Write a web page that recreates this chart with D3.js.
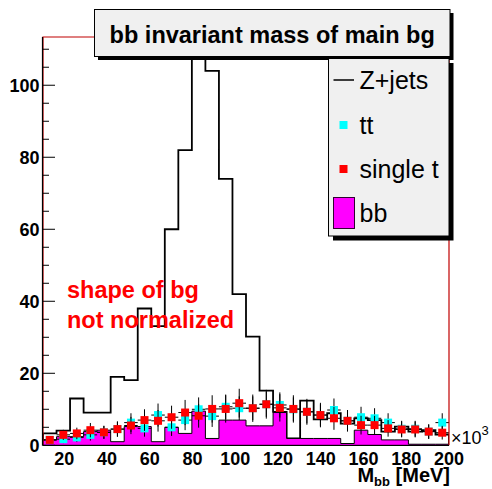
<!DOCTYPE html>
<html><head><meta charset="utf-8">
<script src="https://cdn.jsdelivr.net/npm/d3@7"></script>
<style>body{margin:0;background:#fff}svg{display:block}text{font-family:"Liberation Sans",Arial,Helvetica,sans-serif}</style>
</head><body><svg id="c" width="492" height="489"></svg>
<script>
// ---- data ----
const xDomain = [10, 200];          // x axis, units of 10^3 MeV
const nBins = 30;
const yDomain = [0, 113.4];
const zjets = [3.3, 4.1, 13.0, 9.1, 9.1, 19.0, 18.1, 38.0, 33.1, 60.0, 82.0, 125, 104, 74, 42, 30.2, 15.2, 9.3, 1.9, 12.4, 7.2, 8.9, 6.0, 7.5, 7.0, 3.8, 5.2, 3.8, 4.2, 3.0];
const ttVals = [1.5, 1.7, 2.2, 2.9, 3.6, 4.5, 6.3, 4.7, 8.4, 5.0, 7.0, 10.0, 8.1, 10.7, 10.3, 10.3, 11.4, 11.2, 10.0, 9.3, 8.4, 9.8, 6.8, 7.8, 7.5, 6.3, 4.6, 4.6, 3.8, 6.3];
const ttErr  = [0.9, 1.1, 1.3, 1.6, 1.8, 2.1, 2.6, 2.3, 3.2, 2.4, 2.8, 3.3, 3.0, 3.4, 3.3, 3.3, 3.5, 3.5, 3.3, 3.2, 3.0, 3.2, 2.7, 2.9, 2.8, 2.6, 2.2, 2.2, 2.0, 2.6];
const stVals = [1.5, 2.9, 3.3, 4.2, 3.6, 4.5, 5.5, 7.0, 6.8, 7.8, 9.1, 8.2, 10.1, 10.1, 11.7, 10.3, 11.4, 10.4, 10.1, 9.3, 8.4, 7.5, 6.8, 5.6, 5.6, 4.7, 4.4, 4.4, 3.8, 3.5];
const stErr  = [0.9, 1.4, 1.6, 2.0, 1.8, 2.1, 2.4, 3.0, 3.0, 3.2, 3.5, 3.3, 3.8, 3.8, 4.0, 3.8, 4.0, 3.8, 3.8, 3.6, 3.4, 3.2, 3.0, 2.6, 2.6, 2.3, 2.2, 2.2, 2.0, 1.9];
const bbVals = [1.5, 2.4, 2.4, 3.8, 4.2, 1.0, 5.2, 5.2, 1.0, 5.0, 3.3, 9.5, 1.9, 7.0, 7.0, 5.4, 5.4, 9.1, 1.9, 1.9, 1.9, 1.9, 0.5, 4.2, 3.0, 1.5, 1.5, 0.3, 0.3, 0.3];
const yTickVals = [0, 20, 40, 60, 80, 100];
const xTickVals = [20, 40, 60, 80, 100, 120, 140, 160, 180, 200];
const legendLabels = ["Z+jets", "tt", "single t", "bb"];
const titleText = "bb invariant mass of main bg";
const noteLines = ["shape of bg", "not normalized"];

// ---- drawing ----
const svg = d3.select("#c");
const L = 43, R = 449, T = 37, B = 445.3;
const x = d3.scaleLinear().domain(xDomain).range([L, R]);
const y = d3.scaleLinear().domain(yDomain).range([B, T]);
const bw = (xDomain[1] - xDomain[0]) / nBins;
const edges = d3.range(nBins + 1).map(i => xDomain[0] + i * bw);
const centers = d3.range(nBins).map(i => xDomain[0] + (i + 0.5) * bw);

svg.append("rect").attr("width", 492).attr("height", 489).attr("fill", "#fff");
svg.append("defs").append("clipPath").attr("id", "fr").append("rect")
  .attr("x", L).attr("y", T).attr("width", R - L).attr("height", B - T);

function stepPts(vals) {
  const p = [[edges[0], 0]];
  vals.forEach((v, i) => { p.push([edges[i], v]); p.push([edges[i + 1], v]); });
  p.push([edges[nBins], 0]);
  return p;
}
const line = d3.line().x(d => x(d[0])).y(d => y(d[1]));

// Z+jets hollow histogram
svg.append("path").attr("clip-path", "url(#fr)")
  .attr("d", line(stepPts(zjets))).attr("fill", "none")
  .attr("stroke", "#000").attr("stroke-width", 1.8);

// bb filled histogram
svg.append("path").attr("clip-path", "url(#fr)")
  .attr("d", line(stepPts(bbVals)) + "Z").attr("fill", "#ff00ff")
  .attr("stroke", "#000").attr("stroke-width", 1);

// markers with errors
function markers(vals, errs, color, size) {
  const g = svg.append("g");
  vals.forEach((v, i) => {
    g.append("line").attr("x1", x(edges[i])).attr("x2", x(edges[i + 1]))
      .attr("y1", y(v)).attr("y2", y(v)).attr("stroke", "#000").attr("stroke-width", 1);
    g.append("line").attr("x1", x(centers[i])).attr("x2", x(centers[i]))
      .attr("y1", y(v - errs[i])).attr("y2", y(v + errs[i])).attr("stroke", "#000").attr("stroke-width", 1);
  });
  vals.forEach((v, i) => {
    g.append("rect").attr("x", x(centers[i]) - size / 2).attr("y", y(v) - size / 2)
      .attr("width", size).attr("height", size).attr("fill", color);
  });
}
markers(ttVals, ttErr, "#00ffff", 8);
markers(stVals, stErr, "#ff0000", 8);

// frame
svg.append("path").attr("d", `M${L},${B}V${T}H${R}V${B}`).attr("fill", "none")
  .attr("stroke", "#c00000").attr("stroke-width", 1.2);
svg.append("line").attr("x1", L - 0.5).attr("x2", L - 0.5).attr("y1", T).attr("y2", B + 0.5)
  .attr("stroke", "#000").attr("stroke-width", 1.2);
svg.append("line").attr("x1", L).attr("x2", R).attr("y1", B + 0.2).attr("y2", B + 0.2)
  .attr("stroke", "#000").attr("stroke-width", 1.2);

// y axis ticks (inside)
const ya = svg.append("g");
d3.range(0, 114, 5).forEach(v => {
  const major = v % 20 === 0;
  ya.append("line").attr("x1", L).attr("x2", L + (major ? 12 : 6))
    .attr("y1", y(v)).attr("y2", y(v)).attr("stroke", "#000").attr("stroke-width", 1);
});
yTickVals.forEach(v => {
  ya.append("text").attr("x", 39.5).attr("y", y(v)).attr("dy", "0.36em")
    .attr("text-anchor", "end").attr("font-weight", "bold").attr("font-size", 18).text(v);
});
// x labels
xTickVals.forEach(v => {
  svg.append("text").attr("x", x(v)).attr("y", 464.5).attr("text-anchor", "middle")
    .attr("font-weight", "bold").attr("font-size", 18).text(v);
});
const ex = svg.append("text").attr("x", 451).attr("y", 443.5).attr("font-size", 18);
ex.append("tspan").text("\u00d710");
ex.append("tspan").attr("font-size", 13).attr("dy", -9).text("3");

const xt = svg.append("text").attr("x", 450).attr("y", 482).attr("text-anchor", "end")
  .attr("font-weight", "bold").attr("font-size", 20);
xt.append("tspan").text("M");
xt.append("tspan").attr("font-size", 13).attr("dy", 3.5).text("bb");
xt.append("tspan").attr("dy", -3.5).text(" [MeV]");

// red note
noteLines.forEach((t, i) => {
  svg.append("text").attr("x", 67).attr("y", 297.5 + i * 30).attr("fill", "#ff0000")
    .attr("font-weight", "bold").attr("font-size", 23.5).text(t);
});

// title box
svg.append("rect").attr("x", 98).attr("y", 13).attr("width", 355.5).attr("height", 47).attr("fill", "#000");
svg.append("rect").attr("x", 94.5).attr("y", 9.5).attr("width", 355.5).attr("height", 47)
  .attr("fill", "#f0f0f0").attr("stroke", "#000").attr("stroke-width", 1);
svg.append("text").attr("x", 272.2).attr("y", 43.3).attr("text-anchor", "middle")
  .attr("font-weight", "bold").attr("font-size", 23.5).text(titleText);

// legend
const lg = svg.append("g");
lg.append("rect").attr("x", 333).attr("y", 63).attr("width", 120.5).attr("height", 177.5).attr("fill", "#000");
lg.append("rect").attr("x", 328.5).attr("y", 58.5).attr("width", 120.5).attr("height", 177.5)
  .attr("fill", "#f0f0f0").attr("stroke", "#000").attr("stroke-width", 1);
const rowY = [80, 125, 169, 213];
lg.append("line").attr("x1", 333.5).attr("x2", 354).attr("y1", rowY[0]).attr("y2", rowY[0])
  .attr("stroke", "#000").attr("stroke-width", 1.5);
lg.append("rect").attr("x", 339.5).attr("y", rowY[1] - 4).attr("width", 8).attr("height", 8).attr("fill", "#00ffff");
lg.append("rect").attr("x", 339.5).attr("y", rowY[2] - 4).attr("width", 8).attr("height", 8).attr("fill", "#ff0000");
lg.append("rect").attr("x", 333.5).attr("y", 197.5).attr("width", 21).attr("height", 31)
  .attr("fill", "#ff00ff").attr("stroke", "#300030").attr("stroke-width", 1);
legendLabels.forEach((t, i) => {
  lg.append("text").attr("x", 359.5).attr("y", rowY[i]).attr("dy", "0.36em")
    .attr("font-size", 25).text(t);
});
</script></body></html>
